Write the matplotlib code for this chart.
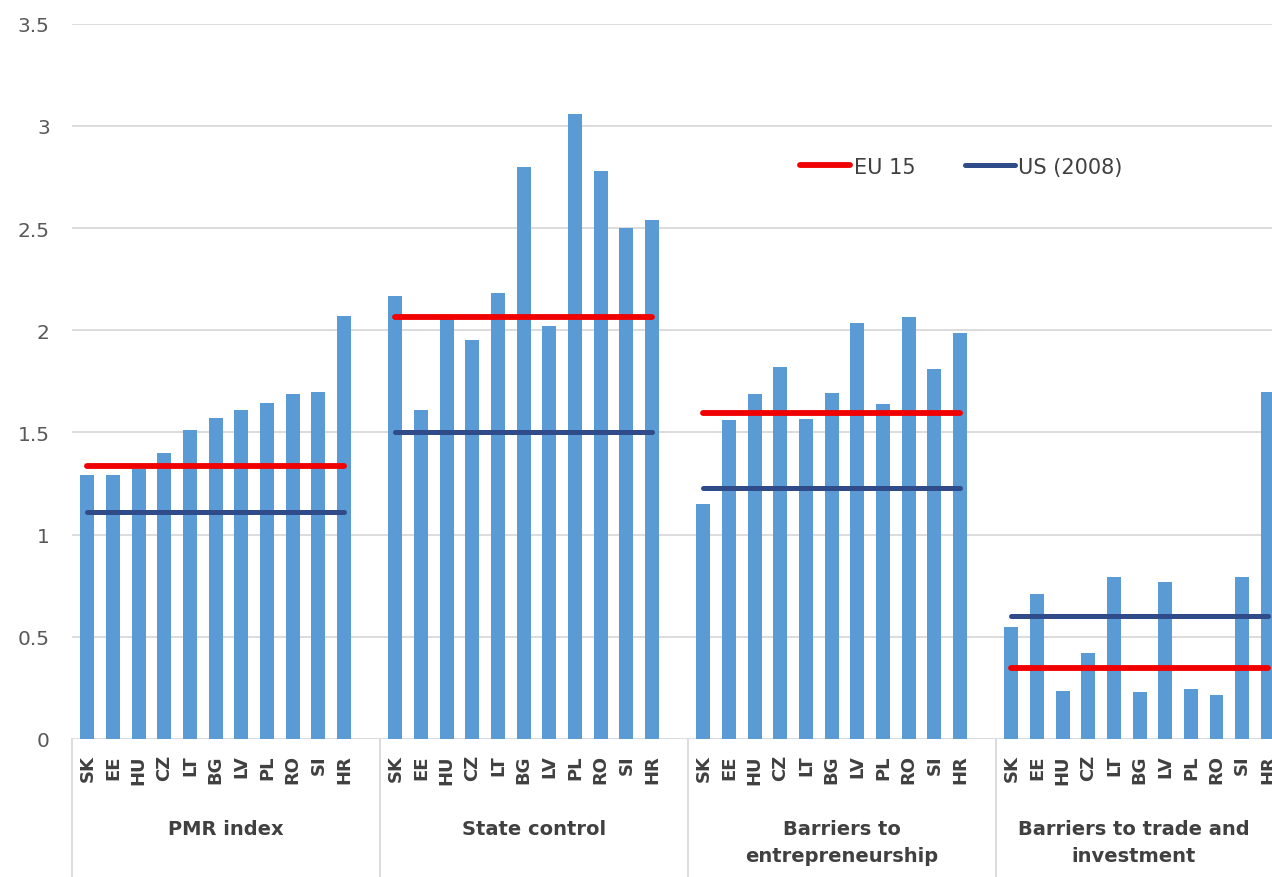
import numpy as np
import matplotlib.pyplot as plt

# Product market regulation indicators by country
countries = ['SK', 'EE', 'HU', 'CZ', 'LT', 'BG', 'LV', 'PL', 'RO', 'SI', 'HR']
groups = ['PMR index', 'State control', 'Barriers to\nentrepreneurship',
          'Barriers to trade and\ninvestment']

pmr_index = [1.29, 1.29, 1.32, 1.40, 1.51, 1.57, 1.61, 1.645, 1.69, 1.70, 2.07]
state_control = [2.17, 1.61, 2.06, 1.95, 2.18, 2.80, 2.02, 3.06, 2.78, 2.50, 2.54]
barriers_entre = [1.15, 1.56, 1.69, 1.82, 1.565, 1.695, 2.035, 1.64, 2.065, 1.81, 1.985]
barriers_trade = [0.55, 0.71, 0.235, 0.42, 0.795, 0.23, 0.77, 0.245, 0.215, 0.795, 1.70]

eu15 = [1.335, 2.065, 1.595, 0.345]
us_2008 = [1.11, 1.50, 1.23, 0.60]

series = [pmr_index, state_control, barriers_entre, barriers_trade]

bar_color = '#5B9BD5'
red = '#F00000'
navy = '#2F4B8A'
grid_color = '#D9D9D9'
text_dark = '#404040'
text_gray = '#595959'

fig = plt.figure(figsize=(12.72, 8.78), dpi=100)
ax = fig.add_axes([72 / 1272, 138 / 878, 1200 / 1272, 715.3 / 878])

slot = 12  # 11 countries + one empty slot between groups
xticks = []
for g, vals in enumerate(series):
    x = np.arange(len(countries)) + slot * g
    xticks.extend(x)
    ax.bar(x, vals, width=0.54, color=bar_color, zorder=2)
    ax.plot([x[0], x[-1]], [us_2008[g]] * 2, color=navy, lw=3.6,
            solid_capstyle='round', zorder=3, label='US (2008)' if g == 0 else None)
    ax.plot([x[0], x[-1]], [eu15[g]] * 2, color=red, lw=4.2,
            solid_capstyle='round', zorder=4, label='EU 15' if g == 0 else None)

xmin, xmax = -0.6, 46.16
ax.set_xlim(xmin, xmax)
ax.set_ylim(0, 3.5)
ax.set_yticks(np.arange(0, 3.51, 0.5))
ax.set_yticklabels(['0', '0.5', '1', '1.5', '2', '2.5', '3', '3.5'])
ax.yaxis.grid(True, color=grid_color, lw=1.3, zorder=0)
ax.set_axisbelow(True)
for s in ax.spines.values():
    s.set_visible(False)
ax.tick_params(axis='y', length=0, pad=16, labelsize=14.5, labelcolor=text_gray)

ax.set_xticks(xticks)
ax.set_xticklabels(countries * len(groups), rotation=90, fontsize=13,
                   fontweight='bold', color=text_dark)
ax.tick_params(axis='x', length=0, pad=11)

# group separators and group names, centred on the visible part of each group
trans = ax.get_xaxis_transform()
for g, name in enumerate(groups):
    left = slot * g - 0.6
    right = min(left + slot, xmax)
    ax.plot([left, left], [0, -0.2], transform=trans, clip_on=False,
            color=grid_color, lw=1.3)
    ax.text((left + right) / 2, -0.112, name, transform=trans, ha='center',
            va='top', multialignment='center', fontsize=14, fontweight='bold',
            color=text_dark, linespacing=1.5)

handles, labels = ax.get_legend_handles_labels()
order = [1, 0]
ax.legend([handles[i] for i in order], [labels[i] for i in order],
          loc='center left', bbox_to_anchor=(0.607, 0.80), ncol=2,
          frameon=False, fontsize=15, handlelength=2.4, handletextpad=0.15,
          columnspacing=2.4, borderpad=0, borderaxespad=0, labelcolor=text_dark)

fig.savefig('out.png', dpi=100)
